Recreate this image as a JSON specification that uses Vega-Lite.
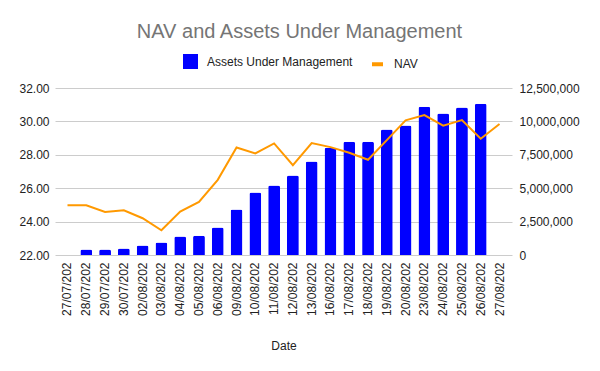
{
  "$schema": "https://vega.github.io/schema/vega-lite/v6.json",
  "width": 457,
  "height": 167,
  "autosize": {"type": "none"},
  "padding": {"left": 55, "top": 88, "right": 88, "bottom": 116},
  "background": "white",
  "title": {
    "text": "NAV and Assets Under Management",
    "fontSize": 20,
    "font": "Liberation Sans",
    "fontWeight": "normal",
    "color": "#757575",
    "anchor": "middle",
    "dx": 16,
    "offset": 12
  },
  "config": {
    "view": {"stroke": null},
    "font": "Liberation Sans",
    "axis": {
      "labelFont": "Liberation Sans",
      "labelFontSize": 12,
      "labelColor": "#222222",
      "titleFont": "Liberation Sans",
      "titleFontSize": 12,
      "titleFontWeight": "normal",
      "titleColor": "#222222",
      "ticks": false,
      "domain": false,
      "gridColor": "#cccccc"
    }
  },
  "data": {
    "values": [
      {"date": "27/07/202", "nav": 24.98, "aum": null},
      {"date": "28/07/202", "nav": 24.98, "aum": 420000},
      {"date": "29/07/202", "nav": 24.58, "aum": 420000},
      {"date": "30/07/202", "nav": 24.68, "aum": 490000},
      {"date": "02/08/202", "nav": 24.20, "aum": 720000},
      {"date": "03/08/202", "nav": 23.48, "aum": 940000},
      {"date": "04/08/202", "nav": 24.60, "aum": 1380000},
      {"date": "05/08/202", "nav": 25.18, "aum": 1450000},
      {"date": "06/08/202", "nav": 26.50, "aum": 2050000},
      {"date": "09/08/202", "nav": 28.44, "aum": 3400000},
      {"date": "10/08/202", "nav": 28.08, "aum": 4670000},
      {"date": "11/08/202", "nav": 28.68, "aum": 5200000},
      {"date": "12/08/202", "nav": 27.38, "aum": 5950000},
      {"date": "13/08/202", "nav": 28.70, "aum": 6990000},
      {"date": "16/08/202", "nav": 28.46, "aum": 8020000},
      {"date": "17/08/202", "nav": 28.12, "aum": 8470000},
      {"date": "18/08/202", "nav": 27.70, "aum": 8470000},
      {"date": "19/08/202", "nav": 28.88, "aum": 9390000},
      {"date": "20/08/202", "nav": 30.06, "aum": 9690000},
      {"date": "23/08/202", "nav": 30.38, "aum": 11100000},
      {"date": "24/08/202", "nav": 29.74, "aum": 10590000},
      {"date": "25/08/202", "nav": 30.08, "aum": 11040000},
      {"date": "26/08/202", "nav": 28.96, "aum": 11330000},
      {"date": "27/08/202", "nav": 29.84, "aum": null}
    ]
  },
  "encoding": {
    "x": {
      "field": "date",
      "type": "nominal",
      "sort": ["27/07/202", "28/07/202", "29/07/202", "30/07/202", "02/08/202", "03/08/202", "04/08/202", "05/08/202", "06/08/202", "09/08/202", "10/08/202", "11/08/202", "12/08/202", "13/08/202", "16/08/202", "17/08/202", "18/08/202", "19/08/202", "20/08/202", "23/08/202", "24/08/202", "25/08/202", "26/08/202", "27/08/202"],
      "scale": {"paddingInner": 0.37, "paddingOuter": 0.35},
      "axis": {
        "title": "Date",
        "labelAngle": -90,
        "labelPadding": 7,
        "titlePadding": 25,
        "grid": false,
        "labelColor": "#222222"
      }
    }
  },
  "layer": [
    {
      "mark": {"type": "bar", "color": "#0000ff", "cornerRadiusTopLeft": 2, "cornerRadiusTopRight": 2},
      "encoding": {
        "y": {
          "field": "aum",
          "type": "quantitative",
          "scale": {"domain": [0, 12500000], "nice": false},
          "axis": {
            "orient": "right",
            "title": null,
            "values": [0, 2500000, 5000000, 7500000, 10000000, 12500000],
            "format": ",.0f",
            "grid": true,
            "labelPadding": 7
          }
        },
        "color": {
          "datum": "Assets Under Management",
          "type": "nominal",
          "scale": {"domain": ["Assets Under Management", "NAV"], "range": ["#0000ff", "#ff9900"]},
          "legend": {
            "orient": "none",
            "direction": "horizontal",
            "legendX": 128,
            "legendY": -34,
            "title": null,
            "labelFontSize": 12,
            "labelFont": "Liberation Sans",
            "labelColor": "#222222",
            "symbolSize": 121,
            "columnPadding": 11,
            "labelOffset": 9,
            "encode": {
              "symbols": {
                "update": {
                  "shape": {"signal": "datum.value === 'NAV' ? 'stroke' : 'square'"},
                  "fill": {"signal": "datum.value === 'NAV' ? 'transparent' : '#0000ff'"},
                  "stroke": {"signal": "datum.value === 'NAV' ? '#ff9900' : 'transparent'"},
                  "strokeWidth": {"value": 4},
                  "opacity": {"value": 1}
                }
              }
            }
          }
        }
      }
    },
    {
      "mark": {"type": "line", "color": "#ff9900", "strokeWidth": 2},
      "encoding": {
        "y": {
          "field": "nav",
          "type": "quantitative",
          "scale": {"domain": [22, 32], "nice": false, "zero": false},
          "axis": {
            "orient": "left",
            "title": null,
            "values": [22, 24, 26, 28, 30, 32],
            "format": ".2f",
            "grid": false,
            "labelPadding": 6
          }
        },
        "color": {"datum": "NAV", "type": "nominal"}
      }
    }
  ],
  "resolve": {"scale": {"y": "independent"}}
}
